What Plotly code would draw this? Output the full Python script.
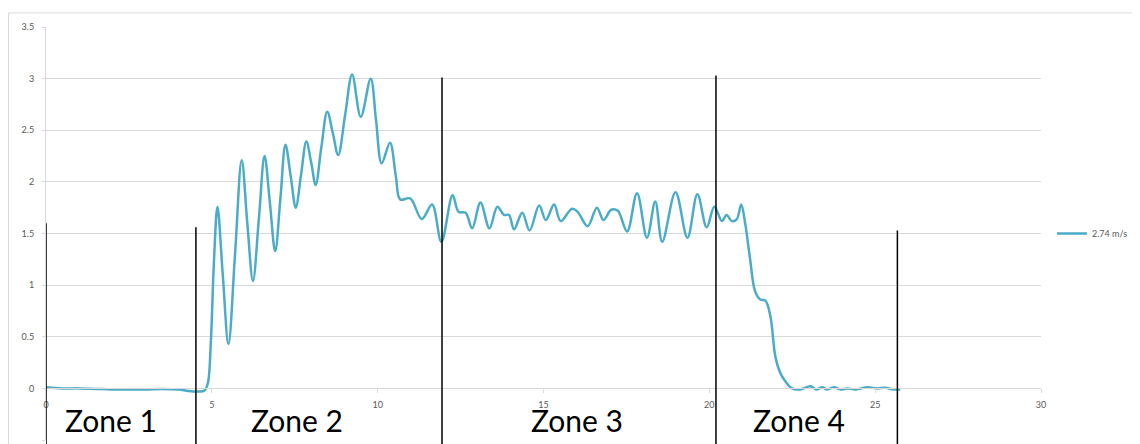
import plotly.graph_objects as go

# ---- data ----
time_s = [0, 0.5, 1.0, 1.5, 2.0, 2.5, 3.0, 3.5, 4.0, 4.3, 4.6, 4.78, 4.88, 4.97, 5.06, 5.17,
          5.33, 5.5, 5.7, 5.9, 6.07, 6.24, 6.42, 6.59, 6.75, 6.91, 7.07, 7.22, 7.38, 7.53,
          7.69, 7.85, 8.0, 8.13, 8.3, 8.48, 8.65, 8.81, 9.02, 9.23, 9.49, 9.79, 9.95, 10.12,
          10.37, 10.55, 10.68, 10.98, 11.33, 11.64, 11.92, 12.26, 12.44, 12.65, 12.85, 13.1,
          13.37, 13.61, 13.81, 13.96, 14.11, 14.36, 14.58, 14.87, 15.07, 15.32, 15.52, 15.86,
          16.03, 16.33, 16.61, 16.81, 17.04, 17.24, 17.52, 17.82, 18.12, 18.37, 18.58, 18.98,
          19.34, 19.64, 19.92, 20.15, 20.38, 20.52, 20.68, 20.83, 20.96, 21.08, 21.23, 21.38,
          21.54, 21.69, 21.84, 21.99, 22.14, 22.29, 22.49, 22.74, 23.05, 23.23, 23.4, 23.55,
          23.76, 23.96, 24.16, 24.41, 24.76, 25.06, 25.31, 25.56, 25.76]
speed = [0.01, 0.0, 0.0, -0.005, -0.01, -0.01, -0.01, -0.005, -0.01, -0.025, -0.03, -0.02,
         0.05, 0.45, 1.2, 1.76,
         1.1, 0.43, 1.3, 2.21, 1.6, 1.04, 1.65, 2.25, 1.8, 1.33, 1.85, 2.36, 2.05, 1.75,
         2.07, 2.39, 2.18, 1.97, 2.33, 2.68, 2.47, 2.26, 2.65, 3.04, 2.63, 3.0, 2.6, 2.18,
         2.38, 2.05, 1.83, 1.84, 1.64, 1.78, 1.42, 1.87, 1.71, 1.70, 1.55, 1.80,
         1.55, 1.76, 1.68, 1.68, 1.54, 1.70, 1.53, 1.77, 1.63, 1.78, 1.62, 1.74,
         1.71, 1.57, 1.75, 1.63, 1.73, 1.72, 1.52, 1.89, 1.46, 1.81, 1.42, 1.90,
         1.46, 1.88, 1.56, 1.76, 1.62, 1.68, 1.62, 1.64, 1.78, 1.60, 1.25, 0.94,
         0.86, 0.85, 0.70, 0.31, 0.15, 0.07, 0.0, -0.01, 0.02, -0.01, 0.01, -0.01,
         0.01, -0.01, 0.0, -0.01, 0.01, 0.0, 0.005, -0.01, -0.01]
series_name = "2.74 m/s"

zone_edges = [0, 4.52, 11.94, 20.2, 25.67]
zone_edge_tops = [1.6, 1.56, 3.01, 3.03, 1.53]
zone_labels = ["Zone 1", "Zone 2", "Zone 3", "Zone 4"]
zone_label_x = [1.97, 7.58, 16.0, 22.7]

y_tick_vals = [-0.5, 0, 0.5, 1, 1.5, 2, 2.5, 3, 3.5]
y_tick_text = ["-0.5", "0", "0.5", "1", "1.5", "2", "2.5", "3", "3.5"]
x_tick_vals = [0, 5, 10, 15, 20, 25, 30]

Y_MIN, Y_MAX = -0.5, 3.5
GRID = "#D9D9D9"
TICKFONT = dict(family="Lato, Liberation Sans, sans-serif", size=9, color="#595959")

fig = go.Figure()
fig.add_trace(go.Scatter(
    x=time_s, y=speed, mode="lines", name=series_name,
    line=dict(color="#4BACC6", width=2.5, shape="spline", smoothing=1.0),
))

def to_paper(v):
    return (v - Y_MIN) / (Y_MAX - Y_MIN)

shapes = []
for xe, top in zip(zone_edges, zone_edge_tops):
    shapes.append(dict(type="line", xref="x", yref="paper", x0=xe, x1=xe,
                       y0=-0.2, y1=to_paper(top),
                       line=dict(color="black", width=1.5), layer="above"))
# outer chart frame
shapes.append(dict(type="rect", xref="paper", yref="paper",
                   x0=-0.0377, x1=1.2, y0=-0.3, y1=1.034,
                   line=dict(color=GRID, width=1), fillcolor="rgba(0,0,0,0)", layer="below"))

annotations = []
for lab, lx in zip(zone_labels, zone_label_x):
    annotations.append(dict(text=lab, x=lx, y=-0.31, xref="x", yref="y",
                            showarrow=False, xanchor="center", yanchor="middle",
                            font=dict(family="Lato, Liberation Sans, sans-serif", size=30, color="black")))

fig.update_layout(
    width=1132, height=436,
    margin=dict(l=38, r=99, t=19, b=4, autoexpand=False),
    paper_bgcolor="white", plot_bgcolor="white",
    showlegend=True,
    legend=dict(x=1.011, y=0.5, xanchor="left", yanchor="middle",
                font=TICKFONT, bgcolor="rgba(0,0,0,0)", itemwidth=30),
    xaxis=dict(range=[0, 30], tickvals=x_tick_vals, showgrid=False, zeroline=False,
               anchor="free", position=to_paper(0), showline=True, linecolor=GRID, linewidth=1,
               ticks="outside", ticklen=4, tickcolor=GRID, tickfont=TICKFONT,
               ticklabelstandoff=4),
    yaxis=dict(range=[Y_MIN, Y_MAX], tickvals=y_tick_vals, ticktext=y_tick_text,
               showgrid=True, gridcolor=GRID, gridwidth=1, zeroline=False,
               showline=True, linecolor=GRID, linewidth=1,
               ticks="outside", ticklen=3, tickcolor=GRID, tickfont=TICKFONT,
               ticklabelstandoff=6),
    shapes=shapes, annotations=annotations,
)

fig.write_html("out.html")
